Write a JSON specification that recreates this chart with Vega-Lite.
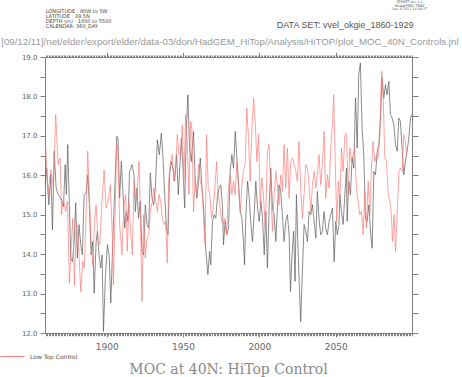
{
  "$schema": "https://vega.github.io/schema/vega-lite/v6.json",
  "autosize": {"type": "none"},
  "padding": {"left": 45, "top": 57, "right": 50, "bottom": 44},
  "width": 367,
  "height": 276,
  "background": "white",
  "config": {"view": {"stroke": null}, "axis": {"domainColor": "#808080", "tickColor": "#808080", "grid": false, "labelColor": "#666666", "labelFont": "DejaVu Sans", "title": null}},
  "title": {"text": "MOC at 40N: HiTop Control", "orient": "bottom", "anchor": "middle", "font": "DejaVu Serif", "fontSize": 14, "fontWeight": "normal", "color": "#8a8a8a", "offset": 3},
  "datasets": {
    "hitop": [
      {"year":1859.7,"moc":15.76},{"year":1860.7,"moc":16.18},{"year":1862.1,"moc":15.25},{"year":1863.4,"moc":16.01},{"year":1864.5,"moc":14.62},{"year":1865.6,"moc":16.61},{"year":1866.9,"moc":15.68},{"year":1868.2,"moc":15.51},{"year":1869.9,"moc":15.42},{"year":1871.7,"moc":15.21},{"year":1872.8,"moc":16.27},{"year":1873.6,"moc":15.51},{"year":1874.5,"moc":16.78},{"year":1875.6,"moc":15.17},{"year":1876.5,"moc":13.90},{"year":1877.6,"moc":13.81},{"year":1878.7,"moc":14.32},{"year":1879.7,"moc":15.30},{"year":1880.8,"moc":13.90},{"year":1881.9,"moc":14.75},{"year":1883.0,"moc":14.24},{"year":1884.1,"moc":13.98},{"year":1885.2,"moc":15.51},{"year":1886.5,"moc":15.55},{"year":1887.6,"moc":16.01},{"year":1888.7,"moc":15.25},{"year":1889.8,"moc":13.98},{"year":1890.9,"moc":14.32},{"year":1891.8,"moc":13.01},{"year":1893.1,"moc":14.32},{"year":1893.9,"moc":14.58},{"year":1895.0,"moc":13.98},{"year":1896.1,"moc":13.65},{"year":1897.0,"moc":13.98},{"year":1897.9,"moc":12.04},{"year":1899.2,"moc":13.48},{"year":1900.5,"moc":14.24},{"year":1901.6,"moc":13.98},{"year":1902.7,"moc":12.76},{"year":1904.0,"moc":14.32},{"year":1905.3,"moc":15.68},{"year":1906.6,"moc":16.99},
      {"year":1907.4,"moc":16.94},{"year":1908.5,"moc":15.42},{"year":1909.6,"moc":16.35},{"year":1910.7,"moc":15.51},{"year":1911.8,"moc":14.66},{"year":1912.9,"moc":15.08},{"year":1913.9,"moc":14.83},{"year":1915.0,"moc":16.10},{"year":1916.6,"moc":16.27},{"year":1917.9,"moc":16.01},{"year":1918.8,"moc":15.08},{"year":1919.8,"moc":15.68},{"year":1920.9,"moc":14.91},{"year":1922.0,"moc":15.34},{"year":1923.1,"moc":14.07},{"year":1924.2,"moc":13.98},{"year":1925.3,"moc":15.25},{"year":1926.4,"moc":14.75},{"year":1927.5,"moc":14.66},{"year":1928.6,"moc":16.06},{"year":1929.7,"moc":15.42},{"year":1930.8,"moc":15.25},{"year":1931.9,"moc":15.68},{"year":1933.2,"moc":16.90},{"year":1934.5,"moc":16.52},{"year":1935.8,"moc":17.07},{"year":1936.9,"moc":16.44},{"year":1938.0,"moc":15.51},{"year":1939.1,"moc":14.66},{"year":1940.2,"moc":14.49},{"year":1941.2,"moc":16.01},{"year":1942.3,"moc":16.35},{"year":1943.4,"moc":16.18},{"year":1944.5,"moc":15.85},{"year":1945.8,"moc":16.52},{"year":1946.9,"moc":15.51},{"year":1948.0,"moc":16.27},{"year":1948.9,"moc":16.94},{"year":1950.0,"moc":16.18},{"year":1951.1,"moc":15.17},{"year":1952.2,"moc":17.20},{"year":1953.2,"moc":18.04},{"year":1954.3,"moc":16.69},{"year":1955.4,"moc":16.35},
      {"year":1956.9,"moc":17.11},{"year":1958.0,"moc":15.85},{"year":1959.1,"moc":15.42},{"year":1960.2,"moc":15.85},{"year":1961.3,"moc":16.44},{"year":1962.4,"moc":15.68},{"year":1963.4,"moc":15.25},{"year":1964.5,"moc":14.32},{"year":1965.6,"moc":13.81},{"year":1966.3,"moc":13.48},{"year":1967.4,"moc":14.07},{"year":1968.2,"moc":13.73},{"year":1969.3,"moc":14.83},{"year":1970.4,"moc":15.00},{"year":1971.5,"moc":14.91},{"year":1972.6,"moc":15.51},{"year":1973.7,"moc":15.68},{"year":1974.8,"moc":15.76},{"year":1975.9,"moc":15.17},{"year":1976.5,"moc":14.24},{"year":1977.6,"moc":14.83},{"year":1978.7,"moc":14.49},{"year":1979.8,"moc":14.66},{"year":1980.9,"moc":16.10},{"year":1982.0,"moc":16.52},{"year":1983.1,"moc":16.18},{"year":1984.2,"moc":17.11},{"year":1985.3,"moc":16.44},{"year":1986.4,"moc":15.76},{"year":1987.5,"moc":15.08},{"year":1988.6,"moc":14.91},{"year":1989.6,"moc":14.32},{"year":1990.3,"moc":13.73},{"year":1991.2,"moc":15.00},{"year":1992.3,"moc":15.85},{"year":1993.4,"moc":15.42},{"year":1994.5,"moc":14.75},{"year":1995.5,"moc":14.32},{"year":1996.6,"moc":15.00},{"year":1997.7,"moc":15.85},{"year":1998.8,"moc":15.17},{"year":1999.9,"moc":14.83},{"year":2001.0,"moc":15.34},{"year":2002.1,"moc":14.91},{"year":2003.2,"moc":13.98},
      {"year":2004.2,"moc":15.08},{"year":2005.3,"moc":13.65},{"year":2006.4,"moc":15.17},{"year":2007.5,"moc":16.18},{"year":2008.6,"moc":15.17},{"year":2009.7,"moc":15.00},{"year":2010.8,"moc":14.32},{"year":2011.8,"moc":15.17},{"year":2012.9,"moc":15.76},{"year":2014.0,"moc":15.59},{"year":2015.1,"moc":15.00},{"year":2016.2,"moc":14.32},{"year":2017.3,"moc":14.83},{"year":2018.4,"moc":15.00},{"year":2019.5,"moc":14.49},{"year":2020.4,"moc":13.05},{"year":2021.4,"moc":13.98},{"year":2022.5,"moc":14.58},{"year":2023.4,"moc":13.31},{"year":2024.3,"moc":15.51},{"year":2025.2,"moc":14.32},{"year":2026.0,"moc":13.39},{"year":2027.1,"moc":12.29},{"year":2028.2,"moc":13.56},{"year":2029.3,"moc":14.75},{"year":2030.4,"moc":14.58},{"year":2031.5,"moc":14.32},{"year":2032.6,"moc":15.08},{"year":2033.7,"moc":15.00},{"year":2034.8,"moc":15.25},{"year":2035.9,"moc":14.83},{"year":2037.0,"moc":14.41},{"year":2038.0,"moc":15.59},{"year":2039.1,"moc":14.91},{"year":2040.2,"moc":14.49},{"year":2041.3,"moc":14.58},{"year":2042.4,"moc":15.08},{"year":2043.5,"moc":14.66},{"year":2044.6,"moc":14.49},{"year":2045.7,"moc":14.83},{"year":2046.8,"moc":15.00},{"year":2047.9,"moc":15.17},{"year":2049.0,"moc":13.81},{"year":2050.1,"moc":14.83},{"year":2051.1,"moc":14.49},{"year":2052.2,"moc":14.75},
      {"year":2052.7,"moc":15.51},{"year":2053.8,"moc":15.08},{"year":2054.9,"moc":14.75},{"year":2056.0,"moc":15.51},{"year":2057.1,"moc":16.18},{"year":2057.5,"moc":14.83},{"year":2058.6,"moc":15.85},{"year":2059.7,"moc":15.51},{"year":2060.8,"moc":16.44},{"year":2061.9,"moc":16.18},{"year":2063.0,"moc":17.96},{"year":2064.1,"moc":16.69},{"year":2065.1,"moc":18.55},{"year":2066.2,"moc":18.85},{"year":2067.3,"moc":17.20},{"year":2068.4,"moc":16.52},{"year":2069.5,"moc":14.91},{"year":2070.6,"moc":14.83},{"year":2071.7,"moc":15.25},{"year":2072.8,"moc":14.58},{"year":2073.9,"moc":14.15},{"year":2075.0,"moc":16.10},{"year":2076.1,"moc":16.01},{"year":2077.2,"moc":16.61},{"year":2078.2,"moc":16.78},{"year":2079.3,"moc":17.37},{"year":2080.4,"moc":18.47},{"year":2081.5,"moc":17.96},{"year":2082.6,"moc":18.30},{"year":2083.7,"moc":18.04},{"year":2084.8,"moc":18.38},{"year":2085.9,"moc":17.54},{"year":2087.0,"moc":17.45},{"year":2088.1,"moc":17.28},{"year":2089.2,"moc":16.78},{"year":2090.3,"moc":16.61},{"year":2091.4,"moc":17.45},{"year":2092.4,"moc":17.37},{"year":2093.5,"moc":16.69},{"year":2094.6,"moc":16.01},{"year":2095.7,"moc":16.35},{"year":2096.8,"moc":16.61},{"year":2097.9,"moc":16.94},{"year":2099.0,"moc":17.45},{"year":2099.9,"moc":17.54}
    ],
    "lowtop": [
      {"year":1860.1,"moc":16.69,"run":"Low Top Control"},{"year":1861.6,"moc":15.51,"run":"Low Top Control"},{"year":1863.4,"moc":16.14,"run":"Low Top Control"},{"year":1865.1,"moc":15.68,"run":"Low Top Control"},{"year":1866.6,"moc":17.54,"run":"Low Top Control"},{"year":1868.2,"moc":16.27,"run":"Low Top Control"},{"year":1869.5,"moc":16.44,"run":"Low Top Control"},{"year":1870.4,"moc":15.00,"run":"Low Top Control"},{"year":1871.7,"moc":15.38,"run":"Low Top Control"},{"year":1873.2,"moc":15.08,"run":"Low Top Control"},{"year":1874.3,"moc":15.34,"run":"Low Top Control"},{"year":1875.6,"moc":13.26,"run":"Low Top Control"},{"year":1876.9,"moc":14.32,"run":"Low Top Control"},{"year":1877.8,"moc":14.91,"run":"Low Top Control"},{"year":1878.9,"moc":13.22,"run":"Low Top Control"},{"year":1880.2,"moc":14.83,"run":"Low Top Control"},{"year":1881.5,"moc":14.32,"run":"Low Top Control"},{"year":1883.0,"moc":13.05,"run":"Low Top Control"},{"year":1884.3,"moc":13.81,"run":"Low Top Control"},{"year":1885.4,"moc":13.65,"run":"Low Top Control"},{"year":1886.5,"moc":15.00,"run":"Low Top Control"},{"year":1887.6,"moc":16.61,"run":"Low Top Control"},{"year":1888.7,"moc":15.42,"run":"Low Top Control"},{"year":1889.8,"moc":14.32,"run":"Low Top Control"},{"year":1890.9,"moc":13.73,"run":"Low Top Control"},{"year":1892.0,"moc":14.83,"run":"Low Top Control"},{"year":1893.1,"moc":15.25,"run":"Low Top Control"},{"year":1894.4,"moc":14.32,"run":"Low Top Control"},{"year":1895.5,"moc":14.24,"run":"Low Top Control"},{"year":1896.8,"moc":15.25,"run":"Low Top Control"},{"year":1898.3,"moc":16.14,"run":"Low Top Control"},{"year":1899.6,"moc":15.17,"run":"Low Top Control"},{"year":1900.9,"moc":15.34,"run":"Low Top Control"},{"year":1902.4,"moc":15.76,"run":"Low Top Control"},{"year":1903.8,"moc":14.32,"run":"Low Top Control"},{"year":1904.4,"moc":13.22,"run":"Low Top Control"},{"year":1905.5,"moc":15.00,"run":"Low Top Control"},{"year":1906.6,"moc":16.78,"run":"Low Top Control"},
      {"year":1907.4,"moc":16.61,"run":"Low Top Control"},{"year":1908.5,"moc":14.75,"run":"Low Top Control"},{"year":1910.0,"moc":13.98,"run":"Low Top Control"},{"year":1911.3,"moc":15.25,"run":"Low Top Control"},{"year":1912.4,"moc":15.51,"run":"Low Top Control"},{"year":1913.5,"moc":14.07,"run":"Low Top Control"},{"year":1914.6,"moc":15.34,"run":"Low Top Control"},{"year":1915.7,"moc":14.58,"run":"Low Top Control"},{"year":1916.8,"moc":13.98,"run":"Low Top Control"},{"year":1917.9,"moc":15.85,"run":"Low Top Control"},{"year":1919.0,"moc":15.42,"run":"Low Top Control"},{"year":1920.1,"moc":15.68,"run":"Low Top Control"},{"year":1921.2,"moc":16.35,"run":"Low Top Control"},{"year":1922.0,"moc":15.17,"run":"Low Top Control"},{"year":1923.1,"moc":12.80,"run":"Low Top Control"},{"year":1924.2,"moc":15.00,"run":"Low Top Control"},{"year":1925.3,"moc":13.90,"run":"Low Top Control"},{"year":1926.4,"moc":14.41,"run":"Low Top Control"},{"year":1927.5,"moc":14.49,"run":"Low Top Control"},{"year":1928.6,"moc":15.08,"run":"Low Top Control"},{"year":1929.9,"moc":15.34,"run":"Low Top Control"},{"year":1931.0,"moc":15.68,"run":"Low Top Control"},{"year":1932.1,"moc":15.34,"run":"Low Top Control"},{"year":1933.2,"moc":15.08,"run":"Low Top Control"},{"year":1934.3,"moc":15.51,"run":"Low Top Control"},{"year":1935.4,"moc":15.34,"run":"Low Top Control"},{"year":1936.4,"moc":14.91,"run":"Low Top Control"},{"year":1937.5,"moc":14.75,"run":"Low Top Control"},{"year":1938.6,"moc":14.83,"run":"Low Top Control"},{"year":1939.7,"moc":13.77,"run":"Low Top Control"},{"year":1940.6,"moc":15.85,"run":"Low Top Control"},{"year":1941.9,"moc":16.35,"run":"Low Top Control"},{"year":1943.0,"moc":16.52,"run":"Low Top Control"},{"year":1944.1,"moc":15.85,"run":"Low Top Control"},{"year":1945.2,"moc":16.27,"run":"Low Top Control"},{"year":1946.3,"moc":17.03,"run":"Low Top Control"},{"year":1947.4,"moc":16.52,"run":"Low Top Control"},{"year":1948.5,"moc":16.52,"run":"Low Top Control"},{"year":1949.5,"moc":17.28,"run":"Low Top Control"},{"year":1950.6,"moc":15.85,"run":"Low Top Control"},{"year":1951.7,"moc":17.54,"run":"Low Top Control"},{"year":1952.8,"moc":16.78,"run":"Low Top Control"},{"year":1953.9,"moc":15.51,"run":"Low Top Control"},{"year":1955.0,"moc":17.37,"run":"Low Top Control"},
      {"year":1955.8,"moc":17.20,"run":"Low Top Control"},{"year":1956.9,"moc":15.08,"run":"Low Top Control"},{"year":1958.0,"moc":15.93,"run":"Low Top Control"},{"year":1959.1,"moc":15.51,"run":"Low Top Control"},{"year":1960.2,"moc":16.27,"run":"Low Top Control"},{"year":1961.3,"moc":15.85,"run":"Low Top Control"},{"year":1962.4,"moc":15.68,"run":"Low Top Control"},{"year":1963.4,"moc":15.00,"run":"Low Top Control"},{"year":1964.5,"moc":14.24,"run":"Low Top Control"},{"year":1965.4,"moc":17.03,"run":"Low Top Control"},{"year":1966.5,"moc":15.68,"run":"Low Top Control"},{"year":1967.6,"moc":15.51,"run":"Low Top Control"},{"year":1968.7,"moc":14.91,"run":"Low Top Control"},{"year":1969.8,"moc":15.17,"run":"Low Top Control"},{"year":1970.9,"moc":15.68,"run":"Low Top Control"},{"year":1972.0,"moc":16.35,"run":"Low Top Control"},{"year":1973.0,"moc":15.51,"run":"Low Top Control"},{"year":1974.1,"moc":15.25,"run":"Low Top Control"},{"year":1975.2,"moc":14.83,"run":"Low Top Control"},{"year":1976.3,"moc":14.75,"run":"Low Top Control"},{"year":1977.4,"moc":14.91,"run":"Low Top Control"},{"year":1978.5,"moc":14.49,"run":"Low Top Control"},{"year":1979.8,"moc":15.68,"run":"Low Top Control"},{"year":1980.9,"moc":16.01,"run":"Low Top Control"},{"year":1982.0,"moc":15.51,"run":"Low Top Control"},{"year":1983.1,"moc":15.85,"run":"Low Top Control"},{"year":1984.2,"moc":15.51,"run":"Low Top Control"},{"year":1985.3,"moc":16.35,"run":"Low Top Control"},{"year":1986.4,"moc":15.68,"run":"Low Top Control"},{"year":1987.5,"moc":15.08,"run":"Low Top Control"},{"year":1988.6,"moc":15.76,"run":"Low Top Control"},{"year":1989.6,"moc":16.10,"run":"Low Top Control"},{"year":1990.7,"moc":16.27,"run":"Low Top Control"},{"year":1991.8,"moc":17.71,"run":"Low Top Control"},{"year":1992.9,"moc":16.94,"run":"Low Top Control"},{"year":1994.0,"moc":15.85,"run":"Low Top Control"},{"year":1995.1,"moc":17.11,"run":"Low Top Control"},{"year":1996.2,"moc":17.96,"run":"Low Top Control"},{"year":1997.3,"moc":17.37,"run":"Low Top Control"},{"year":1998.4,"moc":16.35,"run":"Low Top Control"},{"year":1999.5,"moc":17.03,"run":"Low Top Control"},{"year":2000.6,"moc":15.25,"run":"Low Top Control"},{"year":2001.7,"moc":15.93,"run":"Low Top Control"},{"year":2002.7,"moc":15.51,"run":"Low Top Control"},{"year":2003.8,"moc":14.66,"run":"Low Top Control"},
      {"year":2004.2,"moc":15.00,"run":"Low Top Control"},{"year":2005.3,"moc":16.61,"run":"Low Top Control"},{"year":2006.4,"moc":16.78,"run":"Low Top Control"},{"year":2007.5,"moc":15.68,"run":"Low Top Control"},{"year":2008.6,"moc":14.58,"run":"Low Top Control"},{"year":2009.7,"moc":15.51,"run":"Low Top Control"},{"year":2010.8,"moc":16.10,"run":"Low Top Control"},{"year":2011.8,"moc":15.76,"run":"Low Top Control"},{"year":2012.9,"moc":15.25,"run":"Low Top Control"},{"year":2014.0,"moc":16.01,"run":"Low Top Control"},{"year":2015.1,"moc":15.59,"run":"Low Top Control"},{"year":2016.2,"moc":16.78,"run":"Low Top Control"},{"year":2017.3,"moc":15.68,"run":"Low Top Control"},{"year":2018.4,"moc":16.69,"run":"Low Top Control"},{"year":2019.5,"moc":15.42,"run":"Low Top Control"},{"year":2020.6,"moc":16.35,"run":"Low Top Control"},{"year":2021.7,"moc":16.44,"run":"Low Top Control"},{"year":2022.8,"moc":16.27,"run":"Low Top Control"},{"year":2023.9,"moc":16.10,"run":"Low Top Control"},{"year":2024.9,"moc":15.85,"run":"Low Top Control"},{"year":2026.0,"moc":16.86,"run":"Low Top Control"},{"year":2027.1,"moc":15.68,"run":"Low Top Control"},{"year":2028.2,"moc":14.91,"run":"Low Top Control"},{"year":2029.3,"moc":15.51,"run":"Low Top Control"},{"year":2030.4,"moc":16.27,"run":"Low Top Control"},{"year":2031.5,"moc":16.18,"run":"Low Top Control"},{"year":2032.6,"moc":15.76,"run":"Low Top Control"},{"year":2033.7,"moc":15.08,"run":"Low Top Control"},{"year":2034.8,"moc":15.76,"run":"Low Top Control"},{"year":2035.9,"moc":16.10,"run":"Low Top Control"},{"year":2037.0,"moc":15.68,"run":"Low Top Control"},{"year":2038.0,"moc":16.01,"run":"Low Top Control"},{"year":2039.1,"moc":16.52,"run":"Low Top Control"},{"year":2040.2,"moc":15.76,"run":"Low Top Control"},{"year":2041.3,"moc":16.27,"run":"Low Top Control"},{"year":2042.4,"moc":17.11,"run":"Low Top Control"},{"year":2043.5,"moc":15.42,"run":"Low Top Control"},{"year":2044.6,"moc":16.01,"run":"Low Top Control"},{"year":2045.7,"moc":15.68,"run":"Low Top Control"},{"year":2046.8,"moc":16.69,"run":"Low Top Control"},{"year":2047.9,"moc":17.28,"run":"Low Top Control"},{"year":2048.7,"moc":18.04,"run":"Low Top Control"},{"year":2049.6,"moc":16.52,"run":"Low Top Control"},{"year":2050.7,"moc":14.83,"run":"Low Top Control"},{"year":2051.8,"moc":15.85,"run":"Low Top Control"},
      {"year":2052.7,"moc":15.34,"run":"Low Top Control"},{"year":2053.8,"moc":16.69,"run":"Low Top Control"},{"year":2054.9,"moc":16.10,"run":"Low Top Control"},{"year":2056.0,"moc":17.03,"run":"Low Top Control"},{"year":2057.1,"moc":17.07,"run":"Low Top Control"},{"year":2058.2,"moc":15.51,"run":"Low Top Control"},{"year":2059.3,"moc":16.69,"run":"Low Top Control"},{"year":2060.3,"moc":16.35,"run":"Low Top Control"},{"year":2061.4,"moc":16.52,"run":"Low Top Control"},{"year":2062.5,"moc":16.69,"run":"Low Top Control"},{"year":2063.6,"moc":15.68,"run":"Low Top Control"},{"year":2064.7,"moc":15.34,"run":"Low Top Control"},{"year":2065.8,"moc":15.00,"run":"Low Top Control"},{"year":2066.9,"moc":15.08,"run":"Low Top Control"},{"year":2068.0,"moc":14.49,"run":"Low Top Control"},{"year":2069.1,"moc":15.59,"run":"Low Top Control"},{"year":2070.2,"moc":14.66,"run":"Low Top Control"},{"year":2071.3,"moc":15.85,"run":"Low Top Control"},{"year":2072.4,"moc":15.00,"run":"Low Top Control"},{"year":2073.4,"moc":16.18,"run":"Low Top Control"},{"year":2074.5,"moc":16.86,"run":"Low Top Control"},{"year":2075.6,"moc":16.35,"run":"Low Top Control"},{"year":2076.7,"moc":16.52,"run":"Low Top Control"},{"year":2077.8,"moc":16.44,"run":"Low Top Control"},{"year":2078.9,"moc":16.94,"run":"Low Top Control"},{"year":2079.6,"moc":18.13,"run":"Low Top Control"},{"year":2080.2,"moc":18.64,"run":"Low Top Control"},{"year":2081.1,"moc":18.04,"run":"Low Top Control"},{"year":2082.2,"moc":16.44,"run":"Low Top Control"},{"year":2083.3,"moc":16.35,"run":"Low Top Control"},{"year":2084.4,"moc":15.51,"run":"Low Top Control"},{"year":2085.5,"moc":15.34,"run":"Low Top Control"},{"year":2086.5,"moc":15.00,"run":"Low Top Control"},{"year":2087.2,"moc":14.32,"run":"Low Top Control"},{"year":2088.3,"moc":15.00,"run":"Low Top Control"},{"year":2089.2,"moc":14.07,"run":"Low Top Control"},{"year":2090.3,"moc":15.00,"run":"Low Top Control"},{"year":2091.4,"moc":16.10,"run":"Low Top Control"},{"year":2092.4,"moc":16.18,"run":"Low Top Control"},{"year":2093.5,"moc":16.10,"run":"Low Top Control"},{"year":2094.6,"moc":17.03,"run":"Low Top Control"},{"year":2095.7,"moc":16.86,"run":"Low Top Control"},{"year":2096.4,"moc":16.52,"run":"Low Top Control"}
    ]
  },
  "layer": [
    {
      "data": {"name": "hitop"},
      "mark": {"type": "line", "color": "#5a5a5a", "strokeWidth": 0.7},
      "encoding": {
        "x": {"field": "year", "type": "quantitative", "scale": {"domain": [1859.6, 2100], "nice": false, "zero": false},
              "axis": {"orient": "bottom", "tickCount": 240, "labels": false, "tickSize": 2.7, "domain": true, "title": null}},
        "y": {"field": "moc", "type": "quantitative", "scale": {"domain": [12, 19], "nice": false, "zero": false},
              "axis": {"orient": "left", "tickCount": 14, "tickSize": 5, "labelFontSize": 7, "labelPadding": 3, "domain": true, "title": null,
                       "labelExpr": "datum.value % 1 === 0 ? format(datum.value, '.1f') : ''"}}
      }
    },
    {
      "data": {"name": "lowtop"},
      "mark": {"type": "line", "strokeWidth": 0.7},
      "encoding": {
        "x": {"field": "year", "type": "quantitative", "scale": {"domain": [1859.6, 2100], "nice": false, "zero": false},
              "axis": {"orient": "top", "tickCount": 240, "labels": false, "tickSize": 2, "domain": true, "title": null}},
        "y": {"field": "moc", "type": "quantitative", "scale": {"domain": [12, 19], "nice": false, "zero": false},
              "axis": {"orient": "right", "tickCount": 14, "tickSize": 6, "labels": false, "domain": true, "title": null}},
        "color": {"field": "run", "type": "nominal", "scale": {"domain": ["Low Top Control"], "range": ["#ff7a7a"]},
                  "legend": {"orient": "none", "legendX": -45, "legendY": 287, "title": null, "symbolType": "stroke", "symbolSize": 576, "symbolStrokeWidth": 1,
                             "labelFontSize": 6, "labelColor": "#555555", "labelFont": "DejaVu Sans", "labelOffset": 5, "padding": 0}}
      }
    },
    {
      "data": {"values": [{"label": ["LONGITUDE : 80W to 5W", "LATITUDE : 39.5N", "DEPTH (m) : 1000 to 5500", "CALENDAR: 360_DAY"]}]},
      "mark": {"type": "text", "align": "left", "baseline": "top", "font": "DejaVu Sans", "fontSize": 5, "lineHeight": 5.2, "color": "#444444"},
      "encoding": {
        "x": {"datum": 1860.06, "type": "quantitative", "scale": {"domain": [1859.6, 2100], "nice": false, "zero": false},
              "axis": {"orient": "bottom", "values": [1900, 1950, 2000, 2050], "format": "d", "tickSize": 4, "labelPadding": 5, "labelFontSize": 9, "domain": false, "title": null}},
        "y": {"datum": 20.22, "type": "quantitative", "scale": {"domain": [12, 19], "nice": false, "zero": false}, "axis": null},
        "text": {"field": "label"}
      }
    },
    {
      "data": {"values": [{"label": "DATA SET: vvel_okgie_1860-1929"}]},
      "mark": {"type": "text", "align": "left", "baseline": "middle", "font": "Liberation Sans", "fontSize": 9, "color": "#555555"},
      "encoding": {
        "x": {"datum": 2011.4, "type": "quantitative", "scale": {"domain": [1859.6, 2100], "nice": false, "zero": false},
              "axis": {"orient": "top", "values": [1900, 1950, 2000, 2050], "tickSize": 4.7, "labels": false, "domain": false, "title": null}},
        "y": {"datum": 19.8, "type": "quantitative", "scale": {"domain": [12, 19], "nice": false, "zero": false}, "axis": null},
        "text": {"field": "label"}
      }
    },
    {
      "data": {"values": [{"label": "[09/12/11]/net/elder/export/elder/data-03/don/HadGEM_HiTop/Analysis/HiTOP/plot_MOC_40N_Controls.jnl"}]},
      "mark": {"type": "text", "align": "center", "baseline": "middle", "font": "Liberation Sans", "fontSize": 9.7, "color": "#999999"},
      "encoding": {
        "x": {"datum": 1980.7, "type": "quantitative", "scale": {"domain": [1859.6, 2100], "nice": false, "zero": false}, "axis": null},
        "y": {"datum": 19.37, "type": "quantitative", "scale": {"domain": [12, 19], "nice": false, "zero": false}, "axis": null},
        "text": {"field": "label"}
      }
    },
    {
      "data": {"values": [{"label": ["FERRET Ver. 6.1", "NOAA/PMEL TMAP", "Dec  9 2011 16:34:37"]}]},
      "mark": {"type": "text", "align": "center", "baseline": "top", "font": "DejaVu Sans", "fontSize": 3.3, "lineHeight": 3.4, "color": "#555555"},
      "encoding": {
        "x": {"datum": 2098.5, "type": "quantitative", "scale": {"domain": [1859.6, 2100], "nice": false, "zero": false}, "axis": null},
        "y": {"datum": 20.44, "type": "quantitative", "scale": {"domain": [12, 19], "nice": false, "zero": false}, "axis": null},
        "text": {"field": "label"}
      }
    }
  ]
}
